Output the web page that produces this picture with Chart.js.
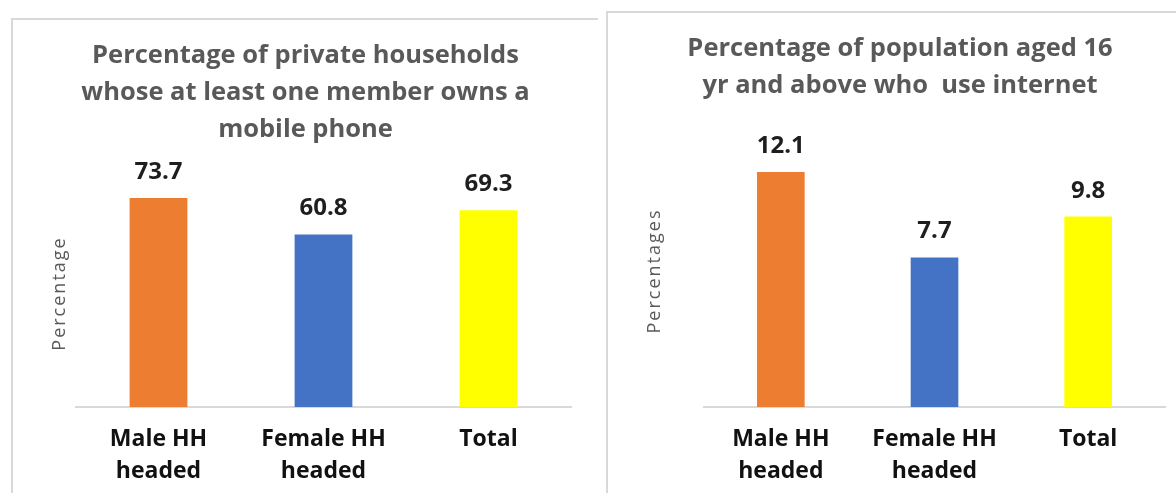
<!DOCTYPE html>
<html>
<head>
<meta charset="utf-8">
<script src="https://cdn.jsdelivr.net/npm/chart.js@4/dist/chart.umd.min.js"></script>
<style>
  html, body { margin: 0; padding: 0; background: #ffffff; }
  body { width: 1176px; height: 493px; position: relative; overflow: hidden; }
  .panel { position: absolute; border-top: 2px solid #d9d9d9; border-left: 2px solid #d9d9d9; box-sizing: border-box; }
  #p1 { left: 11px; top: 18px; width: 587px; height: 480px; }
  #p2 { left: 606px; top: 11px; width: 575px; height: 490px; }
  canvas { position: absolute; }
  #c1 { left: 13px; top: 20px; }
  #c2 { left: 608px; top: 13px; }
</style>
</head>
<body>
<div class="panel" id="p1"></div>
<div class="panel" id="p2"></div>
<canvas id="c1" width="585" height="473"></canvas>
<canvas id="c2" width="568" height="480"></canvas>
<script>
// ---- data ----
const categories = [['Male HH', 'headed'], ['Female HH', 'headed'], 'Total'];
const mobileValues = [73.7, 60.8, 69.3];
const internetValues = [12.1, 7.7, 9.8];
const barColors = ['#ED7D31', '#4472C4', '#FFFF00'];
const mobileTitle = ['Percentage of private households', 'whose at least one member owns a', 'mobile phone'];
const internetTitle = ['Percentage of population aged 16', 'yr and above who  use internet'];
const mobileAxisTitle = 'Percentage';
const internetAxisTitle = 'Percentages';

const FONT = "'Open Sans', 'Noto Sans', sans-serif";

const labelPlugin = {
  id: 'valueLabels',
  afterDatasetsDraw(chart) {
    const ctx = chart.ctx;
    ctx.save();
    ctx.font = 'bold 24px ' + FONT;
    ctx.fillStyle = '#1e1e1e';
    ctx.textAlign = 'center';
    ctx.textBaseline = 'alphabetic';
    const meta = chart.getDatasetMeta(0);
    const data = chart.data.datasets[0].data;
    meta.data.forEach((bar, i) => {
      ctx.fillText(data[i].toFixed(1), bar.x, bar.y - 19);
    });
    ctx.restore();
    // spaced-out lettering for the y-axis title, drawn after the datasets
    ctx.letterSpacing = '2px';
  },
  afterDraw(chart) {
    chart.ctx.letterSpacing = '0px';
  }
};

function makeChart(id, values, titleLines, axisTitle, opts) {
  return new Chart(document.getElementById(id), {
    type: 'bar',
    data: {
      labels: categories,
      datasets: [{
        data: values,
        backgroundColor: barColors,
        borderWidth: 0,
        barPercentage: opts.barPct,
        categoryPercentage: 1
      }]
    },
    options: {
      responsive: false,
      animation: false,
      devicePixelRatio: 1,
      layout: { padding: { left: 27, right: opts.padRight, top: 0, bottom: 0 }, autoPadding: false },
      plugins: {
        legend: { display: false },
        tooltip: { enabled: false },
        title: {
          display: true,
          text: titleLines,
          color: '#595959',
          font: { family: FONT, size: 25.5, weight: 'bold', lineHeight: '37px' },
          padding: { top: 17, bottom: opts.titleBottom }
        }
      },
      scales: {
        x: {
          grid: { display: false, drawTicks: false },
          border: { display: true, color: '#d9d9d9', width: 2 },
          ticks: {
            color: '#111111',
            padding: 16,
            maxRotation: 0,
            autoSkip: false,
            font: { family: FONT, size: 23, weight: 'bold', lineHeight: '32px' }
          },
          afterFit: (s) => { s.height = 86; }
        },
        y: {
          min: 0,
          max: opts.yMax,
          grid: { display: false, drawTicks: false, z: 1 },
          border: { display: false },
          ticks: { display: false },
          title: {
            display: true,
            text: axisTitle,
            color: '#595959',
            font: { family: FONT, size: 18, weight: 'normal', lineHeight: 1.2 },
            padding: { top: 9, bottom: 0 }
          },
          afterFit: (s) => { s.width = opts.yWidth; }
        }
      }
    },
    plugins: [labelPlugin]
  });
}

makeChart('c1', mobileValues, mobileTitle, mobileAxisTitle,
  { barPct: 0.35, padRight: 27, titleBottom: 32, yMax: 80, yWidth: 36 });
makeChart('c2', internetValues, internetTitle, internetAxisTitle,
  { barPct: 0.31, padRight: 11, titleBottom: 31, yMax: 14, yWidth: 69 });
</script>
</body>
</html>
